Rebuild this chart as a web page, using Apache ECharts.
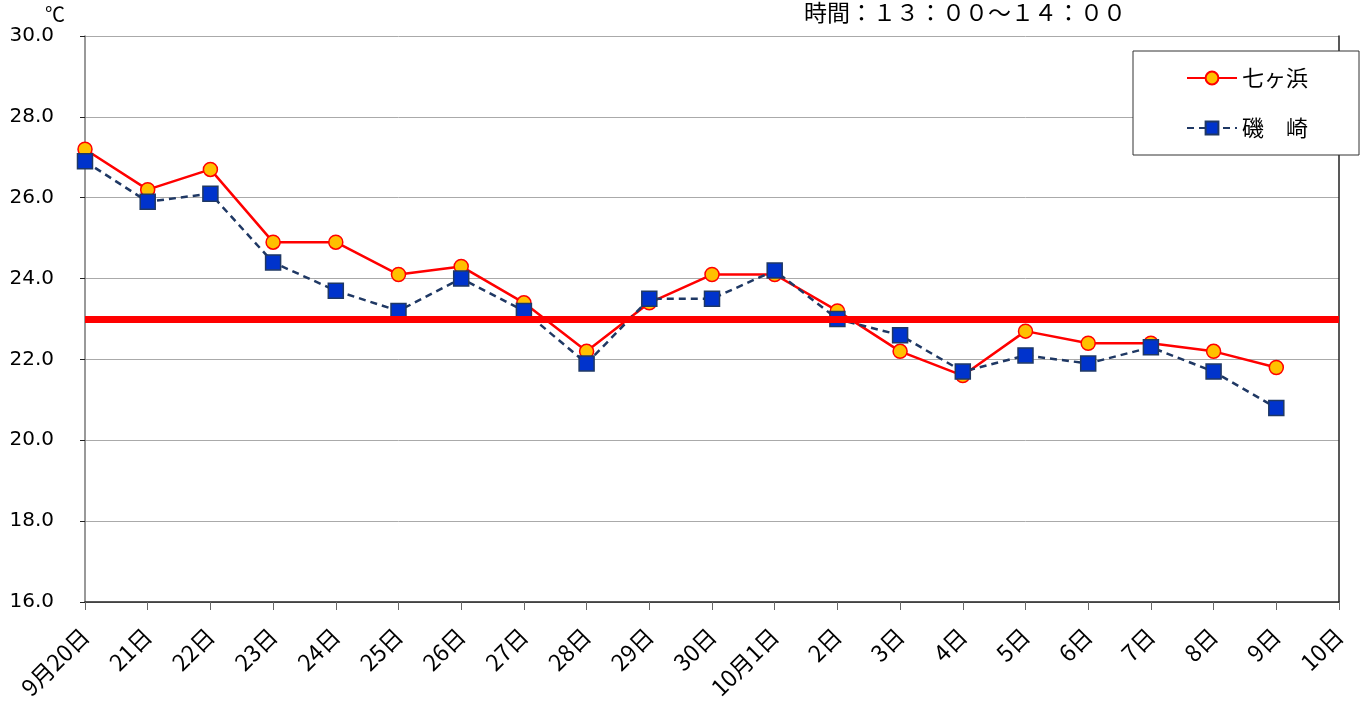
<!DOCTYPE html>
<html>
<head>
<meta charset="utf-8">
<script src="https://cdn.jsdelivr.net/npm/echarts@6/dist/echarts.min.js"></script>
<style>
  html, body { margin: 0; padding: 0; background: #fff; }
  #chart { width: 1365px; height: 708px; }
</style>
</head>
<body>
<div id="chart"></div>
<script>
// 日付（x軸）
const days = ['9月20日', '21日', '22日', '23日', '24日', '25日', '26日', '27日', '28日', '29日', '30日',
  '10月1日', '2日', '3日', '4日', '5日', '6日', '7日', '8日', '9日', '10日'];

// 水温（13:00〜14:00）
const shichigahama = [27.2, 26.2, 26.7, 24.9, 24.9, 24.1, 24.3, 23.4, 22.2, 23.4, 24.1,
  24.1, 23.2, 22.2, 21.6, 22.7, 22.4, 22.4, 22.2, 21.8];
const isozaki = [26.9, 25.9, 26.1, 24.4, 23.7, 23.2, 24.0, 23.2, 21.9, 23.5, 23.5,
  24.2, 23.0, 22.6, 21.7, 22.1, 21.9, 22.3, 21.7, 20.8];

// 基準線
const threshold = 23.0;

const jpFont = '"Noto Sans CJK JP", sans-serif';
const numFont = '"DejaVu Sans", sans-serif';

const chart = echarts.init(document.getElementById('chart'));

const option = {
  animation: false,
  backgroundColor: '#fff',
  title: {
    text: '時間：１３：００～１４：００',
    left: 804,
    top: 1,
    padding: 0,
    textStyle: { fontFamily: jpFont, fontSize: 23, fontWeight: 'normal', color: '#000' }
  },
  graphic: [
    {
      type: 'text',
      left: 45,
      top: 4,
      style: { text: '℃', font: '20px ' + jpFont, fill: '#000' }
    }
  ],
  grid: { left: 85, right: 26, top: 36, bottom: 106 },
  legend: {
    orient: 'vertical',
    left: 1133,
    top: 51,
    padding: [16, 51, 16, 53],
    itemGap: 28,
    itemWidth: 50,
    itemHeight: 16,
    backgroundColor: '#fff',
    borderColor: '#333',
    borderWidth: 1,
    data: ['七ヶ浜', '磯　崎'],
    textStyle: { fontFamily: jpFont, fontSize: 22, color: '#000' }
  },
  xAxis: {
    type: 'category',
    data: days,
    boundaryGap: false,
    axisLine: { lineStyle: { color: '#222', width: 1.5 } },
    axisTick: { show: true, length: 8, lineStyle: { color: '#666' } },
    axisLabel: {
      interval: 0,
      rotate: 45,
      margin: 30,
      fontFamily: jpFont,
      fontSize: 23,
      color: '#000'
    },
    splitLine: { show: false }
  },
  yAxis: [
    {
      type: 'value',
      min: 16,
      max: 30,
      interval: 2,
      axisLine: { show: true, lineStyle: { color: '#777', width: 1.5 } },
      axisTick: { show: true, inside: false, length: 5, lineStyle: { color: '#222' } },
      axisLabel: {
        margin: 31,
        fontFamily: numFont,
        fontSize: 20,
        color: '#000',
        formatter: v => v.toFixed(1)
      },
      splitLine: { lineStyle: { color: '#aaa', width: 1 } }
    },
    {
      type: 'value',
      position: 'right',
      min: 16,
      max: 30,
      interval: 2,
      axisLine: { show: true, lineStyle: { color: '#222', width: 1.5 } },
      axisTick: { show: false },
      axisLabel: { show: false },
      splitLine: { show: false }
    }
  ],
  series: [
    {
      name: '七ヶ浜',
      type: 'line',
      data: shichigahama,
      symbol: 'circle',
      symbolSize: 14,
      lineStyle: { color: '#ff0000', width: 2.5 },
      itemStyle: { color: '#ffc000', borderColor: '#ff0000', borderWidth: 1.5 },
      z: 3
    },
    {
      name: '磯　崎',
      type: 'line',
      data: isozaki,
      symbol: 'rect',
      symbolSize: 15,
      lineStyle: { color: '#1f3864', width: 2.5, type: [7, 5] },
      itemStyle: { color: '#0033cc', borderColor: '#1f3864', borderWidth: 1.5 },
      z: 4
    },
    {
      name: 'threshold',
      type: 'line',
      data: [],
      z: 10,
      markLine: {
        silent: true,
        symbol: 'none',
        label: { show: false },
        lineStyle: { color: '#ff0000', width: 7, type: 'solid' },
        data: [{ yAxis: threshold }]
      }
    }
  ]
};

chart.setOption(option);
</script>
</body>
</html>
